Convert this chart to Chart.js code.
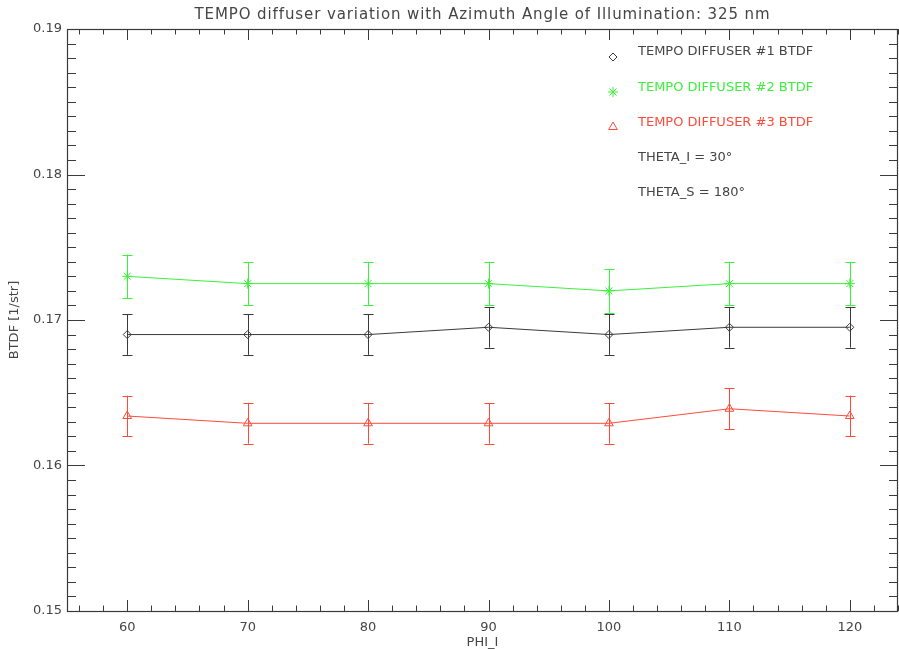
<!DOCTYPE html>
<html><head><meta charset="utf-8">
<script src="https://cdn.jsdelivr.net/npm/chart.js@4/dist/chart.umd.min.js"></script>
<style>html,body{margin:0;padding:0;background:#fff;} #wrap{width:899px;height:649px;}</style>
</head><body><div id="wrap"><canvas id="c" width="899" height="649"></canvas></div>
<script>
// ---- data ----
const phiI = [60, 70, 80, 90, 100, 110, 120];
const btdf1 = [0.1690, 0.1690, 0.1690, 0.1695, 0.1690, 0.1695, 0.1695];
const err1  = [0.0014, 0.0014, 0.0014, 0.0014, 0.0014, 0.0014, 0.0014];
const btdf2 = [0.1730, 0.1725, 0.1725, 0.1725, 0.1720, 0.1725, 0.1725];
const err2  = [0.0015, 0.0015, 0.0015, 0.0015, 0.0015, 0.0015, 0.0015];
const btdf3 = [0.1634, 0.1629, 0.1629, 0.1629, 0.1629, 0.1639, 0.1634];
const err3  = [0.0014, 0.0014, 0.0014, 0.0014, 0.0014, 0.0014, 0.0014];
const xMajorTicks = [60, 70, 80, 90, 100, 110, 120];
const yMajorTicks = [0.15, 0.16, 0.17, 0.18, 0.19];
const seriesLabels = ['TEMPO DIFFUSER #1 BTDF', 'TEMPO DIFFUSER #2 BTDF', 'TEMPO DIFFUSER #3 BTDF'];
const noteLabels = ['THETA_I = 30\u00B0', 'THETA_S = 180\u00B0'];
const titleText = 'TEMPO diffuser variation with Azimuth Angle of Illumination: 325 nm';
const xTitle = 'PHI_I';
const yTitle = 'BTDF [1/str]';

const FONT = 'DejaVu Sans';
const TXT = '#454545';
const AX = '#3a3a3a';
const C1 = '#3a3a3a', C2 = '#3cf03c', C3 = '#ff4a3a';

function mk(label, ys, errs, color, style, r) {
  return {
    label, data: phiI.map((x, i) => ({x, y: ys[i]})), errs,
    borderColor: color, backgroundColor: color, borderWidth: 1,
    pointStyle: style, pointRadius: r, pointBorderColor: color,
    pointBackgroundColor: 'rgba(0,0,0,0)', pointBorderWidth: 1,
    showLine: true, tension: 0
  };
}

const errPlugin = {
  id: 'errbars',
  beforeDatasetsDraw(chart) {
    const ctx = chart.ctx, ys = chart.scales.y;
    chart.data.datasets.forEach((ds, di) => {
      const meta = chart.getDatasetMeta(di);
      ctx.save();
      ctx.strokeStyle = ds.borderColor; ctx.lineWidth = 1;
      meta.data.forEach((pt, i) => {
        const v = ds.data[i].y, e = ds.errs[i];
        const x = Math.round(pt.x) + 0.5;
        const yt = ys.getPixelForValue(v + e), yb = ys.getPixelForValue(v - e);
        ctx.beginPath();
        ctx.moveTo(x, yt); ctx.lineTo(x, yb);
        ctx.moveTo(x - 5, Math.round(yt) + 0.5); ctx.lineTo(x + 5, Math.round(yt) + 0.5);
        ctx.moveTo(x - 5, Math.round(yb) + 0.5); ctx.lineTo(x + 5, Math.round(yb) + 0.5);
        ctx.stroke();
      });
      ctx.restore();
    });
  }
};

const axesPlugin = {
  id: 'axesbox',
  afterDraw(chart) {
    const ctx = chart.ctx, a = chart.chartArea, xs = chart.scales.x, ys = chart.scales.y;
    ctx.save();
    ctx.strokeStyle = AX; ctx.lineWidth = 1.2;
    ctx.strokeRect(a.left + 0.5, a.top + 0.5, a.right - a.left - 1, a.bottom - a.top);
    ctx.lineWidth = 1;
    ctx.beginPath();
    for (let v = 56; v <= 124; v += 2) {
      const px = Math.round(xs.getPixelForValue(v)) + 0.5;
      const len = (v % 10 === 0) ? 11 : 5.5;
      ctx.moveTo(px, a.bottom); ctx.lineTo(px, a.bottom - len);
      ctx.moveTo(px, a.top); ctx.lineTo(px, a.top + len);
    }
    for (let i = 0; i <= 40; i++) {
      const v = yMajorTicks[0] + i * 0.001;
      const py = Math.round(ys.getPixelForValue(v)) + 0.5;
      const len = (i % 10 === 0) ? 18 : 9;
      ctx.moveTo(a.left, py); ctx.lineTo(a.left + len, py);
      ctx.moveTo(a.right, py); ctx.lineTo(a.right - len, py);
    }
    ctx.stroke();

    // title
    ctx.fillStyle = TXT;
    ctx.font = '15px "' + FONT + '"';
    ctx.textBaseline = 'middle';
    ctx.textAlign = 'center';
    try { ctx.letterSpacing = '0.9px'; } catch (e) {}
    ctx.fillText(titleText, (a.left + a.right) / 2, 15);
    try { ctx.letterSpacing = '0px'; } catch (e) {}

    // legend
    const symX = 613, txtX = 638;
    const rows = [52, 88, 123, 158, 193];
    const symDy = [5, 4, 4];
    ctx.font = '13px "' + FONT + '"';
    ctx.textAlign = 'left';
    chart.data.datasets.forEach((ds, i) => {
      ctx.strokeStyle = ds.borderColor; ctx.fillStyle = 'rgba(0,0,0,0)'; ctx.lineWidth = 1;
      Chart.helpers.drawPoint(ctx, {pointStyle: ds.pointStyle, radius: ds.pointRadius, borderWidth: 1, rotation: 0}, symX, rows[i] + symDy[i]);
      ctx.fillStyle = ds.borderColor === C1 ? TXT : ds.borderColor;
      ctx.fillText(seriesLabels[i], txtX, rows[i]);
    });
    ctx.fillStyle = TXT;
    noteLabels.forEach((t, i) => ctx.fillText(t, txtX, rows[3 + i]));
    ctx.restore();
  }
};

new Chart(document.getElementById('c'), {
  type: 'scatter',
  data: {
    datasets: [
      mk(seriesLabels[0], btdf1, err1, C1, 'rectRot', 4),
      mk(seriesLabels[1], btdf2, err2, C2, 'star', 5),
      mk(seriesLabels[2], btdf3, err3, C3, 'triangle', 5)
    ]
  },
  options: {
    responsive: false, animation: false, devicePixelRatio: 1,
    layout: {autoPadding: false, padding: {left: 0, right: 1, top: 29, bottom: 0}},
    plugins: {
      legend: {display: false}, tooltip: {enabled: false}, title: {display: false}
    },
    scales: {
      x: {
        type: 'linear', min: 55, max: 124,
        grid: {display: false, drawTicks: false}, border: {display: false},
        afterBuildTicks: s => { s.ticks = xMajorTicks.map(v => ({value: v})); },
        afterFit: s => { s.height = 38; },
        ticks: {color: TXT, font: {family: FONT, size: 13}, padding: 9, maxRotation: 0,
          callback: v => String(v)},
        title: {display: true, text: xTitle, color: TXT,
          font: {family: FONT, size: 13, lineHeight: 1}, padding: {top: 0, bottom: 0}}
      },
      y: {
        type: 'linear', min: 0.15, max: 0.19,
        grid: {display: false, drawTicks: false}, border: {display: false},
        afterBuildTicks: s => { s.ticks = yMajorTicks.map(v => ({value: v})); },
        afterFit: s => { s.width = 67; },
        ticks: {color: TXT, font: {family: FONT, size: 13}, padding: 5,
          callback: v => Number(v).toFixed(2)},
        title: {display: true, text: yTitle, color: TXT,
          font: {family: FONT, size: 13, lineHeight: 1}, padding: {top: 8.5, bottom: 0}}
      }
    }
  },
  plugins: [errPlugin, axesPlugin]
});
</script>
</body></html>
